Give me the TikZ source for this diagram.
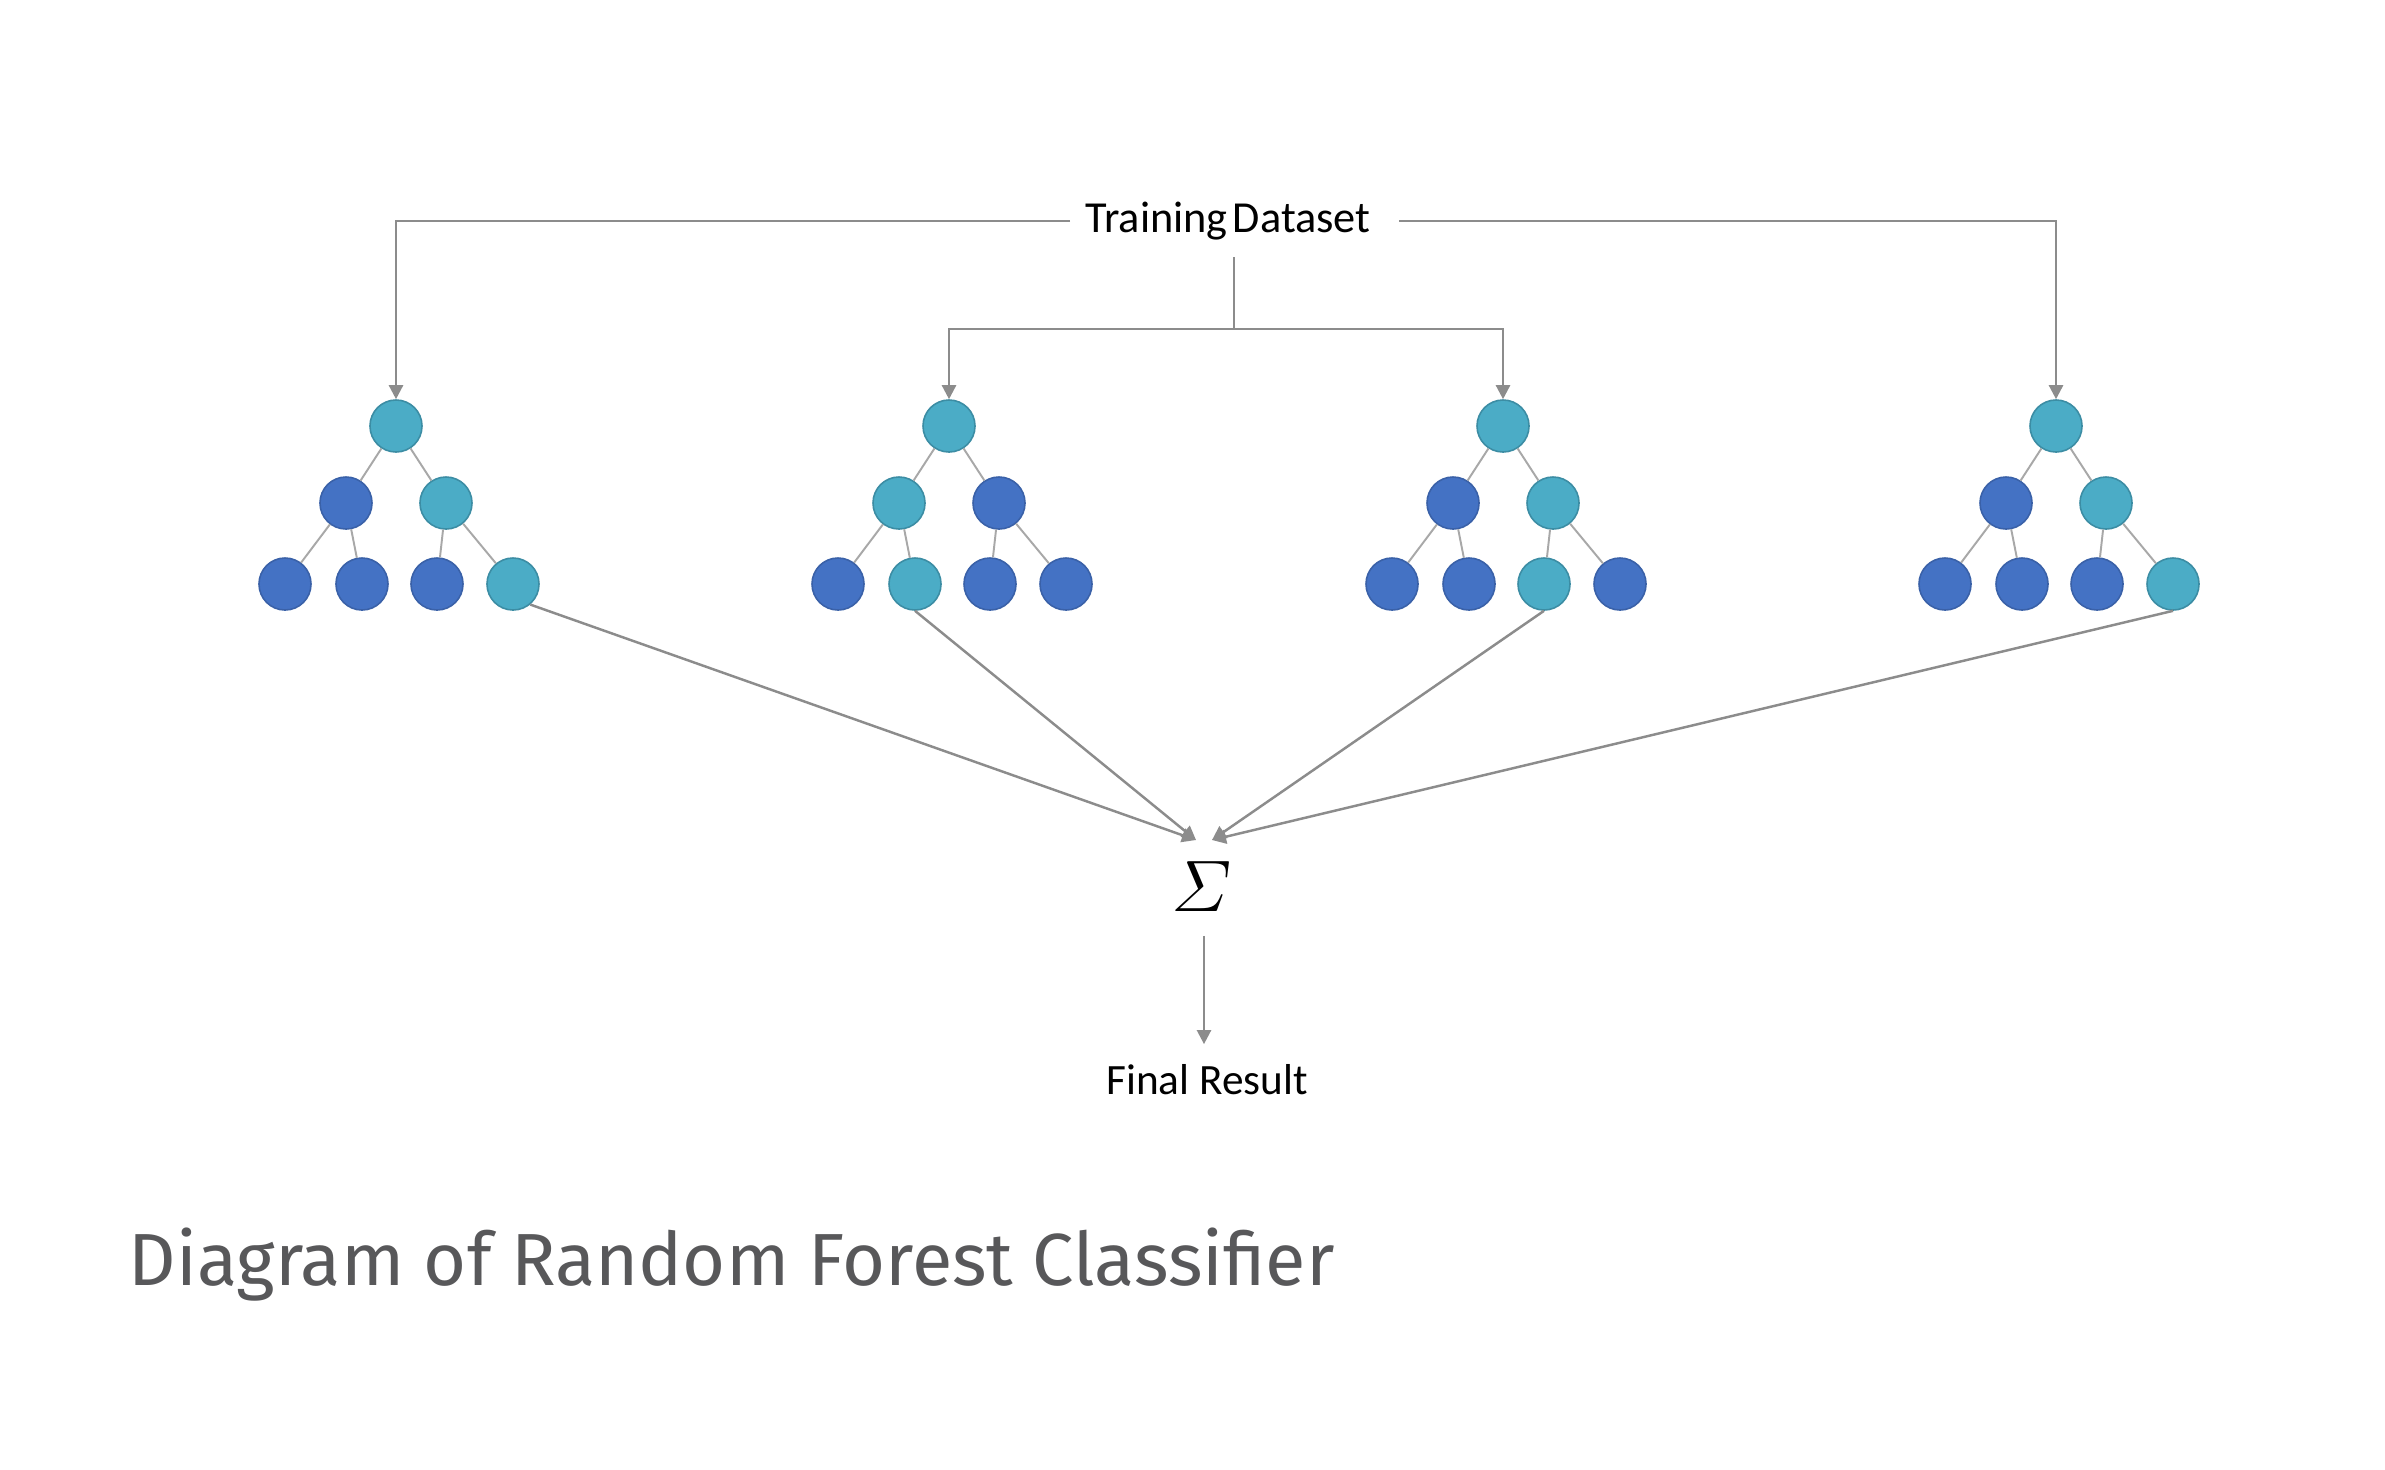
\documentclass[tikz,border=0pt]{standalone}
\usepackage{amsmath}
\usepackage{fontspec}
\newfontfamily\calib{Carlito}
\newfontfamily\titlefont{Fira Sans}
\usetikzlibrary{arrows.meta}
\definecolor{cTeal}{HTML}{4BACC6}
\definecolor{cTealD}{HTML}{3C8DA4}
\definecolor{cBlue}{HTML}{4472C4}
\definecolor{cBlueD}{HTML}{3A61A8}
\definecolor{cLine}{HTML}{8C8C8C}
\definecolor{cEdge}{HTML}{A8A8A8}
\definecolor{cTitle}{HTML}{58585A}
\tikzset{
  tl/.style={circle, fill=cTeal, draw=cTealD, line width=0.45pt, minimum size=0.52cm, inner sep=0pt},
  bl/.style={circle, fill=cBlue, draw=cBlueD, line width=0.45pt, minimum size=0.52cm, inner sep=0pt},
  treeedge/.style={draw=cEdge, line width=0.55pt},
  plainline/.style={draw=cLine, line width=0.7pt},
  conn/.style={draw=cLine, line width=0.7pt, -{Triangle[length=0.14cm, width=0.14cm]}},
  lbl/.style={font=\calib\fontsize{12.6}{15}\selectfont, text=black, inner sep=0pt}
}
\newcommand\rftree[8]{%
  \begin{scope}[shift={(#2,0)}]
    \node[tl] (#1a) at (0,426) {};
    \node[#3] (#1b) at (-50,503) {};
    \node[#4] (#1c) at (50,503) {};
    \node[#5] (#1d) at (-111,584) {};
    \node[#6] (#1e) at (-34,584) {};
    \node[#7] (#1f) at (41,584) {};
    \node[#8] (#1g) at (117,584) {};
  \end{scope}
  \draw[treeedge] (#1a) -- (#1b);
  \draw[treeedge] (#1a) -- (#1c);
  \draw[treeedge] (#1b) -- (#1d);
  \draw[treeedge] (#1b) -- (#1e);
  \draw[treeedge] (#1c) -- (#1f);
  \draw[treeedge] (#1c) -- (#1g);
}
\begin{document}
\begin{tikzpicture}[x=0.01cm, y=-0.01cm]
  \useasboundingbox (0,0) rectangle (2385,1469);
  \fill[white] (0,0) rectangle (2385,1469);

  % trees
  \rftree{A}{396}{bl}{tl}{bl}{bl}{bl}{tl}
  \rftree{B}{949}{tl}{bl}{bl}{tl}{bl}{bl}
  \rftree{C}{1503}{bl}{tl}{bl}{bl}{tl}{bl}
  \rftree{D}{2056}{bl}{tl}{bl}{bl}{bl}{tl}

  % training dataset
  \node[lbl] (td) at (1228,221) {Training\hspace{0.12em}Dataset};
  \coordinate (tdL) at (1070,221);
  \coordinate (tdR) at (1399,221);
  \coordinate (tdB) at (1234,257);
  \coordinate (split) at (1234,329);
  \draw[conn] (tdL) -| (Aa);
  \draw[conn] (tdR) -| (Da);
  \draw[plainline] (tdB) -- (split);
  \draw[conn] (split) -| (Ba);
  \draw[conn] (split) -| (Ca);

  % sigma
  \node[inner sep=0pt, minimum height=0.96cm] (sig) at (1202,887) {\fontsize{22}{25}\selectfont$\varSigma$};
  \coordinate (sigL) at (1196,840);
  \coordinate (sigR) at (1212,840);
  \draw[conn] (Ag.-50) -- (sigL);
  \draw[conn] (Be.south) -- (sigL);
  \draw[conn] (Cf.south) -- (sigR);
  \draw[conn] (Dg.south) -- (sigR);

  % final result
  \node[font=\calib\fontsize{12.3}{15}\selectfont, inner xsep=0pt, inner ysep=0.2cm] (fr) at (1207,1080) {Final Result};
  \draw[conn] (sig.south) ++(2,0) coordinate (sigS) -- (sigS |- fr.north);

  % title
  \node[anchor=base west, inner sep=0pt, text=cTitle, font=\titlefont\fontsize{21}{25}\selectfont] (title) at (128,1285) {Diagram of Random Forest Classifier};
\end{tikzpicture}
\end{document}
